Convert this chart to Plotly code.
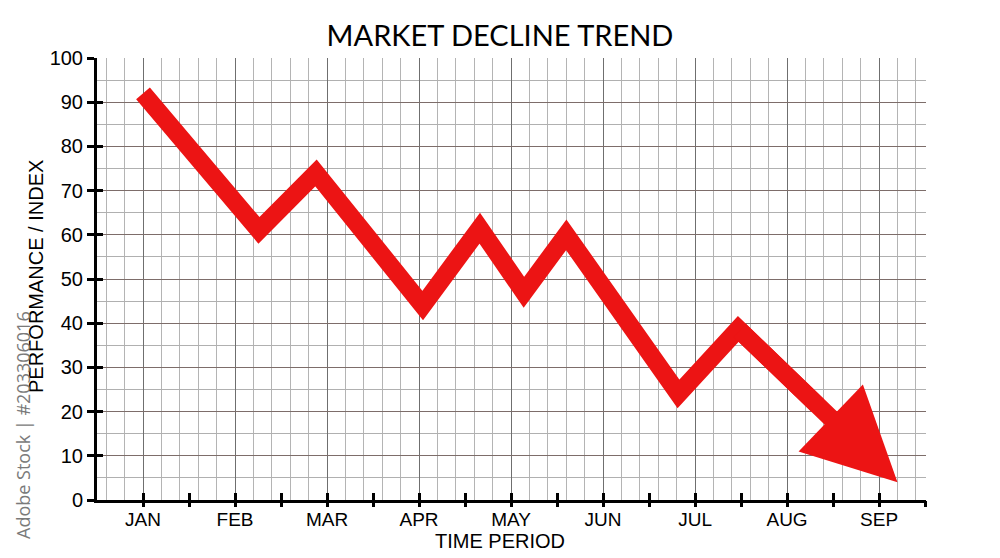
import numpy as np
import plotly.graph_objects as go

# ---- data ----
month_labels = ["JAN", "FEB", "MAR", "APR", "MAY", "JUN", "JUL", "AUG", "SEP"]
month_pos = list(range(len(month_labels)))
trend_x = [0.0, 1.26, 1.88, 3.04, 3.66, 4.14, 4.60, 5.82, 6.47]
trend_y = [92.0, 61.0, 74.0, 44.0, 61.5, 47.0, 60.0, 24.0, 38.7]
arrow_tip_x = 8.20
arrow_tip_y = 4.0
y_ticks = list(range(0, 101, 10))

RED = "#EC1414"
LW = 18

# page body has an 8px margin: figure sized so it ends at the window edge
W, H = 992, 550
OFF = 8
L, T, R, B = 97 - OFF, 58 - OFF, 74, 58
PW = W - L - R
PH = H - T - B

# shaft continues into the arrow annotation; end trace halfway along last leg
mid_x = trend_x[-1] + 0.5 * (arrow_tip_x - trend_x[-1])
mid_y = trend_y[-1] + 0.5 * (arrow_tip_y - trend_y[-1])

fig = go.Figure()
fig.add_trace(go.Scatter(
    x=trend_x + [mid_x], y=trend_y + [mid_y], mode="lines",
    line=dict(color=RED, width=LW), showlegend=False, hoverinfo="skip"))
# helper (invisible) traces so the overlay tick axes get drawn
fig.add_trace(go.Scatter(x=[None], y=[None], xaxis="x2", yaxis="y", showlegend=False))
fig.add_trace(go.Scatter(x=[None], y=[None], xaxis="x3", yaxis="y", showlegend=False))
fig.add_trace(go.Scatter(x=[None], y=[None], xaxis="x", yaxis="y2", showlegend=False))

fig.add_annotation(
    x=arrow_tip_x, y=arrow_tip_y, ax=trend_x[-1], ay=trend_y[-1],
    xref="x", yref="y", axref="x", ayref="y", text="",
    showarrow=True, arrowhead=2, arrowsize=1.03, arrowwidth=LW,
    arrowcolor=RED, standoff=0)

xr = [-0.5, 8.51]
half_ticks = list(np.arange(0, 8.51, 0.5))
fine_grid = [v for v in np.round(np.arange(-0.4, 8.51, 0.2), 3) if abs(v - round(v)) > 1e-6] + [8.5]

fig.update_layout(
    template="none",
    width=W, height=H,
    margin=dict(l=L, r=R, t=T, b=B, autoexpand=False),
    paper_bgcolor="white", plot_bgcolor="white",
    font=dict(family="Liberation Sans, Arial, sans-serif", color="black"),
    title=dict(text="MARKET DECLINE TREND", x=(500 - OFF) / W, xanchor="center",
               y=1 - (36 - OFF) / H, yanchor="middle", yref="container",
               font=dict(family="Lato, Open Sans, sans-serif", size=29, color="black")),
    xaxis=dict(range=xr, tickvals=month_pos, ticktext=month_labels, automargin=False,
               ticks="", ticklen=0,
               tickfont=dict(size=19), showline=True, linecolor="black", linewidth=3,
               showgrid=True, gridcolor="#6f6f6f", gridwidth=1, zeroline=False,
               minor=dict(tickvals=fine_grid, showgrid=True, gridcolor="#b4b4b4",
                          gridwidth=1, ticks=""),
               fixedrange=True),
    xaxis2=dict(range=xr, overlaying="x", anchor="y", side="bottom", automargin=False,
                tickvals=half_ticks, ticks="outside", ticklen=6, tickwidth=3,
                tickcolor="black", showticklabels=False, showgrid=False,
                zeroline=False, showline=False),
    xaxis3=dict(range=xr, overlaying="x", anchor="y", side="bottom", automargin=False,
                tickvals=half_ticks, ticks="inside", ticklen=7, tickwidth=3,
                tickcolor="black", showticklabels=False, showgrid=False,
                zeroline=False, showline=False),
    yaxis=dict(range=[0, 100], tickvals=y_ticks, ticks="outside", ticklen=7, automargin=False,
               tickwidth=3, tickcolor="black", tickfont=dict(size=20),
               showline=True, linecolor="black", linewidth=3,
               showgrid=True, gridcolor="#7d6d6a", gridwidth=1, zeroline=False,
               minor=dict(dtick=5, showgrid=True, gridcolor="#b0b0b0", gridwidth=1, ticks=""),
               fixedrange=True),
    yaxis2=dict(range=[0, 100], overlaying="y", anchor="x", side="left", automargin=False,
                tickvals=y_ticks, ticks="inside", ticklen=6, tickwidth=3,
                tickcolor="black", showticklabels=False, showgrid=False,
                zeroline=False, showline=False),
)

def px_to_paper(px, py):
    return (px - 97) / PW, (500 - py) / PH

tx, ty = px_to_paper(500, 541)
fig.add_annotation(text="TIME PERIOD", xref="paper", yref="paper",
                   x=tx, y=ty, xanchor="center", yanchor="middle", showarrow=False,
                   font=dict(size=20, color="black"))
tx, ty = px_to_paper(36, 277)
fig.add_annotation(text="PERFORMANCE / INDEX", xref="paper", yref="paper",
                   x=tx, y=ty, xanchor="center", yanchor="middle", showarrow=False,
                   textangle=-90, font=dict(size=20, color="black"))
tx, ty = px_to_paper(23, 425)
fig.add_annotation(text="Adobe Stock | #203306016", xref="paper", yref="paper",
                   x=tx, y=ty, xanchor="center", yanchor="middle", showarrow=False,
                   textangle=-90, font=dict(family="Open Sans, sans-serif", size=18, color="#7a7a7a"))

fig.write_html("out.html")
